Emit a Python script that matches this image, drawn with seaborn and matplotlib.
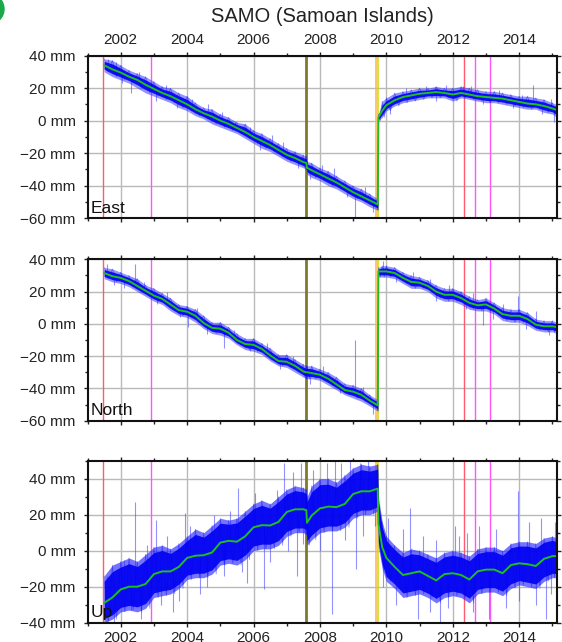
import numpy as np
import pandas as pd
import matplotlib
matplotlib.use("Agg")
import matplotlib.pyplot as plt
from matplotlib.ticker import MultipleLocator, FuncFormatter
from matplotlib.patches import Ellipse
import seaborn as sns

# ---------------- data ----------------
T = [2001.50, 2001.75, 2002.00, 2002.25, 2002.50, 2002.75, 2003.00, 2003.25, 2003.50, 2003.75,
     2004.00, 2004.25, 2004.50, 2004.75, 2005.00, 2005.25, 2005.50, 2005.75, 2006.00, 2006.25,
     2006.50, 2006.75, 2007.00, 2007.25, 2007.50, 2007.59, 2007.61, 2007.75, 2008.00, 2008.25,
     2008.50, 2008.75, 2009.00, 2009.25, 2009.50, 2009.74, 2009.76, 2009.875, 2010.00, 2010.25,
     2010.50, 2010.75, 2011.00, 2011.25, 2011.50, 2011.75, 2012.00, 2012.25, 2012.50, 2012.75,
     2013.00, 2013.25, 2013.50, 2013.75, 2014.00, 2014.25, 2014.50, 2014.75, 2015.00, 2015.13]

east_model = [34, 31.5, 29.5, 27, 25, 22, 19.5, 17, 15, 12.5, 10, 7, 4.5, 2.5, 0, -2, -4.5, -7, -10, -12.5,
              -15, -18, -21, -23, -25.5, -26, -29, -30.5, -33, -35.5, -38, -41, -44, -46.5, -49, -51.5,
              2, 6, 9.5, 12.5, 14.5, 15.5, 16.5, 17, 17.5, 17, 16, 17, 16, 15, 14.5, 14, 13.5, 12.5,
              11.5, 10.5, 10, 9, 7.5, 6.5]
east_hi = [38, 37, 34, 31, 29, 27, 24, 21, 20, 17, 15, 11, 8, 7, 4, 2, -1, -2, -6, -8,
           -11, -14, -17, -19, -21, -22, -25, -26, -29, -31, -34, -37, -40, -42, -45, -48, 4, 12, 14, 17,
           18, 19, 20, 20, 21, 20, 20, 21, 20, 19, 18, 18, 17, 16, 15, 15, 14, 13, 11, 10]
east_lo = [30, 27, 25, 23, 20, 17, 15, 13, 11, 8, 6, 3, 1, -2, -4, -6, -8, -11, -14, -17,
           -19, -22, -25, -27, -29, -30, -33, -35, -37, -40, -42, -45, -48, -50, -53, -55, 0, 2, 6, 9,
           11, 12, 13, 14, 14, 14, 12, 14, 13, 12, 11, 11, 10, 9, 8, 7, 7, 5, 4, 2]

north_model = [31.5, 29.5, 28.5, 26.5, 23.5, 20.5, 17.5, 15.5, 12, 8.5, 7.5, 5, 0.5, -2.5, -3, -5.5, -10,
               -12.5, -13, -15.5, -19.5, -23, -23.5, -26, -29.5, -30, -30, -30.5, -31.5, -34, -37.5, -41,
               -42, -44, -47.5, -50.5, 32.5, 32.5, 32.5, 31.5, 28.5, 26, 25.5, 23.5, 20, 18, 18, 16, 13,
               11.5, 12, 9.5, 6, 5, 5, 3, -0.5, -1.5, -1.5, -2]
north_hi = [35, 34, 32, 30, 28, 24, 22, 19, 16, 12, 11, 9, 5, 1, 1, -2, -6, -9, -9, -12,
            -15, -19, -19, -22, -25, -26, -26, -26, -28, -30, -33, -37, -38, -40, -44, -47, 35, 36, 36, 35,
            32, 30, 29, 27, 24, 22, 22, 20, 17, 15, 16, 13, 10, 9, 9, 7, 3, 2, 2, 1]
north_lo = [28, 26, 25, 23, 20, 17, 14, 12, 8, 5, 4, 1, -3, -6, -7, -9, -13, -16, -17, -19,
            -23, -26, -27, -30, -33, -34, -34, -34, -35, -38, -41, -44, -46, -48, -51, -54, 29, 29, 29, 28,
            25, 22, 22, 20, 16, 14, 14, 12, 9, 8, 8, 6, 2, 1, 1, -1, -4, -5, -5, -6]

up_model = [-29, -26, -21.5, -20, -20, -18.5, -13, -11.5, -11.5, -9, -4, -2.8, -2.5, -1, 4.5, 5.5, 5, 8,
            13, 14.2, 14, 16, 21.5, 23, 23, 22.5, 15.5, 19.5, 23.5, 24.5, 24.2, 26, 31.5, 33, 33, 34.5,
            15, 2, -4, -9, -13.5, -12.5, -11.5, -14, -16.5, -13, -12.5, -13.5, -16, -11.5, -10.5, -10.5,
            -12.5, -8, -7, -7.5, -8.5, -4.5, -3, -3]
up_hi = [-14, -8, -6, -4, -6, -2, 2, 3, 1, 4, 8, 12, 10, 14, 18, 17, 18, 22, 26, 28,
         26, 30, 34, 36, 35, 34, 30, 36, 40, 40, 38, 42, 46, 48, 47, 48, 30, 16, 8, 3,
         -1, 1, 0, -2, -4, -1, 0, -1, -3, 1, 2, 2, 0, 4, 5, 5, 4, 7, 8, 7]
up_lo = [-40, -38, -34, -33, -34, -32, -26, -25, -24, -21, -16, -15, -15, -13, -8, -7, -8, -5, 0, 1,
         1, 3, 8, 10, 10, 9, 3, 6, 10, 11, 11, 13, 18, 20, 20, 22, 2, -10, -17, -21,
         -26, -25, -24, -26, -29, -26, -25, -26, -29, -24, -23, -23, -25, -21, -19, -20, -21, -17, -15, -15]

# outlier spikes (epoch, value)
east_spk_t = [2001.62, 2001.85, 2002.05, 2002.30, 2002.55, 2003.05, 2003.35, 2003.70, 2004.15, 2004.62,
              2005.05, 2005.45, 2005.90, 2006.20, 2006.55, 2006.90, 2007.35, 2007.70, 2008.05, 2008.42,
              2008.80, 2009.07, 2009.35, 2009.60, 2010.10, 2010.60, 2011.20, 2011.50, 2011.80, 2012.30,
              2012.55, 2012.90, 2013.40, 2013.80, 2014.10, 2014.42, 2014.70, 2014.95, 2015.05]
east_spk_v = [38, 36, 23, 17, 30, 12, 22, 8, 13, 10,
              5, -1, -4, -18, -9, -13, -29, -36, -27, -29,
              -47, -60, -41, -56, 4, 20, 21, 12, 22, 21,
              21, 10, 19, 8, 16, 22, 4, 13, -1]
north_spk_t = [2001.60, 2001.80, 2002.10, 2002.42, 2002.70, 2003.10, 2003.40, 2003.80, 2004.02, 2004.30,
               2004.60, 2005.12, 2005.40, 2005.90, 2006.40, 2006.80, 2007.20, 2007.70, 2008.10, 2008.60,
               2009.07, 2009.30, 2009.60, 2009.90, 2010.30, 2010.80, 2011.30, 2011.50, 2011.90, 2012.40,
               2012.60, 2012.90, 2013.20, 2013.50, 2013.97, 2014.20, 2014.50, 2014.90]
north_spk_v = [37, 24, 22, 37, 26, 12, 20, 4, -2, 10,
               -6, -15, -4, -17, -12, -28, -20, -37, -26, -43,
               -10, -39, -56, 39, 26, 32, 28, 14, 24, 9,
               19, -1, 3, 12, 17, -3, 8, -7]
up_spk_t = [2001.60, 2001.80, 2002.10, 2002.30, 2002.42, 2002.62, 2002.80, 2003.05, 2003.20, 2003.40,
            2003.58, 2003.75, 2003.93, 2004.10, 2004.40, 2004.60, 2004.80, 2005.10, 2005.30, 2005.52,
            2005.65, 2005.80, 2006.05, 2006.32, 2006.50, 2006.70, 2006.92, 2007.05, 2007.20, 2007.30,
            2007.42, 2007.50, 2007.80, 2008.00, 2008.20, 2008.36, 2008.45, 2008.62, 2008.75, 2008.90,
            2009.10, 2009.22, 2009.30, 2009.45, 2009.65, 2009.90, 2010.05, 2010.30, 2010.50, 2010.72,
            2010.95, 2011.10, 2011.30, 2011.50, 2011.62, 2011.85, 2012.06, 2012.20, 2012.42, 2012.60,
            2012.80, 2013.10, 2013.30, 2013.60, 2013.97, 2014.00, 2014.30, 2014.50, 2014.65, 2014.82,
            2014.95, 2015.08]
up_spk_v = [-14, -42, -5, -33, 27, -38, 3, 17, -30, 8,
            -34, -28, 21, 14, -24, -20, 20, -14, 22, 35,
            -12, -18, 32, -21, -6, 34, 49, 0, 44, -14,
            49, 4, 45, 0, 49, -35, 50, 49, 6, 50,
            -10, 49, 8, 50, 14, -20, 18, -30, 12, 24,
            -38, 8, -34, 6, -40, -32, 14, 8, 10, -34,
            14, -38, 12, -32, 33, -28, 16, -30, 18, -38,
            -24, 16]

# event lines (epoch, colour)
event_t = [2001.48, 2002.90, 2007.59, 2009.69, 2009.76, 2012.33, 2012.67, 2013.11]
event_c = ['#ff5a6e', '#ff55ff', '#7d7a2a', '#ffb347', '#c8dc00', '#ff5a6e', '#ff55ff', '#ff55ff']
event_w = [1.0, 1.0, 2.0, 1.1, 1.1, 1.0, 1.0, 1.0]

panels = [
    ("East", east_model, east_hi, east_lo, east_spk_t, east_spk_v, (-60, 40)),
    ("North", north_model, north_hi, north_lo, north_spk_t, north_spk_v, (-60, 40)),
    ("Up", up_model, up_hi, up_lo, up_spk_t, up_spk_v, (-40, 50)),
]
core_frac = [0.6, 0.6, 0.8]
halo_alpha = [0.5, 0.5, 0.65]

# ---------------- figure ----------------
sns.set_style("ticks")
plt.rcParams['font.family'] = ['Liberation Sans', 'DejaVu Sans']

fig = plt.figure(figsize=(5.62, 6.42), dpi=100)
L, W = 87.5 / 562, (556.7 - 87.5) / 562
rects = [(55.5, 218.3), (259.3, 420.7), (460.7, 622.7)]

mm_fmt = FuncFormatter(lambda v, p: f"{int(round(v))} mm".replace('-', '\u2212'))
Tarr = np.array(T)

for k, ((name, model, hi, lo, st, sv, ylim), (ytop, ybot)) in enumerate(zip(panels, rects)):
    ax = fig.add_axes([L, 1 - ybot / 642, W, (ybot - ytop) / 642])
    ax.set_xlim(2001.0, 2015.13)
    ax.set_ylim(*ylim)

    ax.grid(True, which='major', color='#b9b9b9', lw=1.0, zorder=0)
    ax.set_axisbelow(True)

    for t, c, w in zip(event_t, event_c, event_w):
        ax.axvline(t, color=c, lw=w, zorder=1.5)

    m = np.array(model); h = np.array(hi); l = np.array(lo)
    # spikes (individual outlying days)
    base = np.interp(st, Tarr, m)
    ax.vlines(st, base, sv, color='#4a4aff', lw=0.8, alpha=0.6, zorder=2)

    # scatter halo and dense core of the daily solutions
    ax.fill_between(Tarr, l, h, color='#2a2aff', alpha=halo_alpha[k], lw=0, zorder=2.1)
    cf = core_frac[k]
    ax.fill_between(Tarr, m + cf * (l - m), m + cf * (h - m), color='#0000f0',
                    alpha=0.9, lw=0, zorder=2.2)
    zx, zy = [], []
    for i in range(len(T)):
        zx.append(T[i]); zy.append(hi[i])
        if i < len(T) - 1:
            zx.append((T[i] + T[i + 1]) / 2); zy.append(lo[i])
    zz = pd.DataFrame({"t": zx, "v": zy})
    sns.lineplot(data=zz, x="t", y="v", ax=ax, color='#0000ff', lw=0.5, alpha=0.45,
                 estimator=None, sort=False, zorder=2.5)

    md = pd.DataFrame({"t": T, "v": model})
    sns.lineplot(data=md, x="t", y="v", ax=ax, color='#1fbf1f', lw=1.4,
                 estimator=None, sort=False, zorder=3)

    ax.set_xlabel(""); ax.set_ylabel("")
    ax.xaxis.set_major_locator(MultipleLocator(2))
    ax.xaxis.set_minor_locator(MultipleLocator(1))
    ax.yaxis.set_major_locator(MultipleLocator(20))
    ax.yaxis.set_minor_locator(MultipleLocator(10))
    ax.yaxis.set_major_formatter(mm_fmt)
    ax.tick_params(which='both', direction='out', top=True, right=True, bottom=True, left=True,
                   labelsize=11, colors='#222222', width=1.0)
    ax.tick_params(which='major', length=3.2)
    ax.tick_params(which='minor', length=2.2)
    ax.tick_params(axis='x', which='major', pad=3)
    ax.tick_params(axis='y', which='major', pad=5.3)
    ax.tick_params(axis='x', labeltop=(k == 0), labelbottom=(k == 2))
    for s in ax.spines.values():
        s.set_linewidth(1.5)
        s.set_color('#111111')
        s.set_zorder(5)

    ax.text(0.006, 0.015, name, transform=ax.transAxes, fontsize=12.5,
            ha='left', va='bottom', color='#111111', zorder=6)

fig.text(0.573, 0.975, "SAMO (Samoan Islands)", ha='center', va='center',
         fontsize=14.5, color='#222222')

fig.patches.append(Ellipse((-11 / 562, 1 - 9 / 642), 30 / 562, 30 / 642,
                           transform=fig.transFigure, color='#1aa84c', clip_on=False))

fig.savefig("out.png", dpi=100)
